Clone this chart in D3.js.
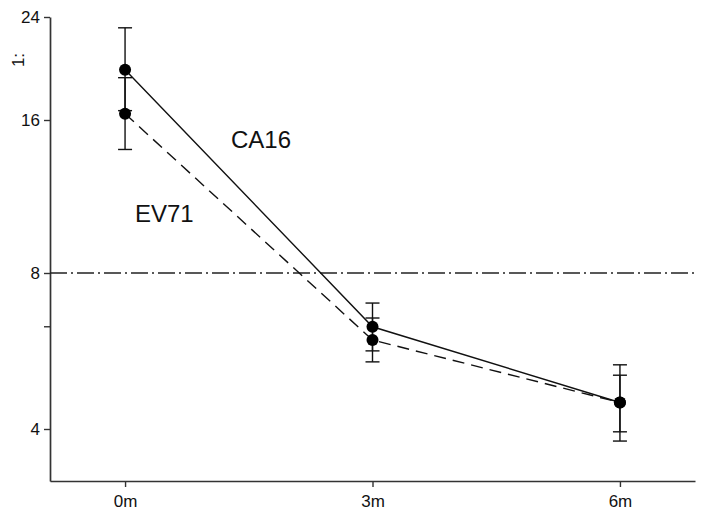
<!DOCTYPE html>
<html>
<head>
<meta charset="utf-8">
<script src="https://cdn.jsdelivr.net/npm/d3@7"></script>
<style>
  body { margin: 0; background: #fff; }
  svg { display: block; font-family: "Liberation Sans", Arial, sans-serif; }
</style>
</head>
<body>
<svg id="chart" width="704" height="516"></svg>
<script>
// months after vaccination
const months = [0, 3, 6];
const monthLabels = ["0m", "3m", "6m"];

// geometric mean titers (1:x) with error range
const ca16Mean  = [19.5, 6.3, 4.5];
const ca16Lower = [16.6, 5.66, 3.79];
const ca16Upper = [23.0, 7.0, 5.32];

const ev71Mean  = [16.4, 5.94, 4.5];
const ev71Lower = [14.0, 5.39, 3.95];
const ev71Upper = [18.9, 6.55, 5.08];

// y axis ticks
const yTicks = [4, 8, 16, 24];
const yMinorTicks = [6.3];
const cutoff = 8;

const svg = d3.select("#chart");

const x = d3.scaleLinear().domain([-0.91, 6.91]).range([50, 695]);
// log axis, the top segment is drawn a bit stretched like the original
const y = d3.scaleLog().domain([3.17, 4, 8, 16, 24]).range([481, 429, 273, 120, 17]);

const ink = "#111";
const font = "Liberation Sans, Arial, sans-serif";

// axes
const xAxis = svg.append("g")
  .attr("transform", `translate(0,${y(3.17)})`)
  .call(d3.axisBottom(x).tickValues(months).tickFormat((d, i) => monthLabels[i]).tickSize(6).tickSizeOuter(0));
xAxis.select(".domain").attr("stroke", "#333").attr("stroke-width", 1.7);
xAxis.selectAll(".tick line").attr("stroke", "#333").attr("stroke-width", 1.4);
xAxis.selectAll(".tick text").attr("font-size", 17).attr("fill", ink).attr("dy", "1.0em").attr("font-family", font);

const yAxis = svg.append("g")
  .attr("transform", `translate(${x(-0.91)},0)`)
  .call(d3.axisLeft(y).tickValues(yTicks).tickFormat(d3.format("d")).tickSize(6).tickSizeOuter(0));
yAxis.select(".domain").attr("stroke", "#333").attr("stroke-width", 1.7);
yAxis.selectAll(".tick line").attr("stroke", "#333").attr("stroke-width", 1.4);
yAxis.selectAll(".tick text").attr("font-size", 17).attr("fill", ink).attr("x", -10).attr("font-family", font);

yAxis.selectAll(".minor")
  .data(yMinorTicks)
  .enter().append("line")
  .attr("class", "minor")
  .attr("x1", -6).attr("x2", 0)
  .attr("y1", d => y(d)).attr("y2", d => y(d))
  .attr("stroke", "#333").attr("stroke-width", 1.4);

svg.append("text")
  .attr("transform", `translate(24,60) rotate(-90)`)
  .attr("text-anchor", "middle")
  .attr("font-size", 17)
  .attr("fill", ink)
  .text("1:");

// cutoff line
svg.append("line")
  .attr("x1", x(-0.91)).attr("x2", x(6.91))
  .attr("y1", y(cutoff)).attr("y2", y(cutoff))
  .attr("stroke", "#222").attr("stroke-width", 1.4)
  .attr("stroke-dasharray", "17,4,2,4");

const series = [
  { name: "CA16", mean: ca16Mean, lower: ca16Lower, upper: ca16Upper, dash: null },
  { name: "EV71", mean: ev71Mean, lower: ev71Lower, upper: ev71Upper, dash: "12,7" }
];

const line = d3.line().x(d => x(d.m)).y(d => y(d.v));

series.forEach(s => {
  const pts = months.map((m, i) => ({ m, v: s.mean[i], lo: s.lower[i], hi: s.upper[i] }));

  svg.append("path")
    .datum(pts)
    .attr("d", line)
    .attr("fill", "none")
    .attr("stroke", ink)
    .attr("stroke-width", 1.4)
    .attr("stroke-dasharray", s.dash);

  const eb = svg.append("g");
  eb.selectAll("line.v").data(pts).enter().append("line")
    .attr("x1", d => x(d.m)).attr("x2", d => x(d.m))
    .attr("y1", d => y(d.lo)).attr("y2", d => y(d.hi))
    .attr("stroke", ink).attr("stroke-width", 1.4);
  eb.selectAll("line.hi").data(pts).enter().append("line")
    .attr("x1", d => x(d.m) - 7).attr("x2", d => x(d.m) + 7)
    .attr("y1", d => y(d.hi)).attr("y2", d => y(d.hi))
    .attr("stroke", ink).attr("stroke-width", 1.4);
  eb.selectAll("line.lo").data(pts).enter().append("line")
    .attr("x1", d => x(d.m) - 7).attr("x2", d => x(d.m) + 7)
    .attr("y1", d => y(d.lo)).attr("y2", d => y(d.lo))
    .attr("stroke", ink).attr("stroke-width", 1.4);
});

// dots on top
series.forEach(s => {
  svg.append("g").selectAll("circle")
    .data(months.map((m, i) => ({ m, v: s.mean[i] })))
    .enter().append("circle")
    .attr("cx", d => x(d.m)).attr("cy", d => y(d.v))
    .attr("r", 6)
    .attr("fill", "#000");
});

// series labels
svg.append("text").attr("x", 231).attr("y", 148).attr("font-size", 24).attr("fill", ink).text("CA16");
svg.append("text").attr("x", 135).attr("y", 222).attr("font-size", 24).attr("fill", ink).text("EV71");
</script>
</body>
</html>
